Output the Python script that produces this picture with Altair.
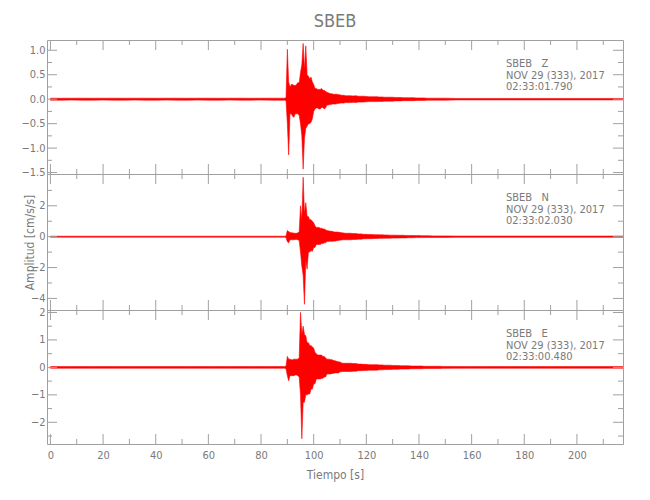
import altair as alt
import pandas as pd

# ---------------- data ----------------
t_pre = [0, 4, 8, 12, 16, 20, 24, 28, 32, 36, 40, 44, 48, 52, 56, 60, 64, 68, 72, 76, 80, 84, 88]
t_event = [88.5, 89, 89.5, 90, 90.5, 91, 91.5, 92, 92.5, 93, 93.5, 94, 94.5, 95, 95.5, 96,
           96.5, 97, 97.5, 98, 98.5, 99, 99.5, 100, 100.5, 101, 101.5, 102, 102.5, 103, 103.5,
           104, 104.5, 105, 105.5, 106, 106.5, 107, 107.5, 108, 108.5, 109, 109.5, 110, 110.5,
           111, 111.5, 112]
t_coda = [113, 114, 115, 116, 117, 118, 119, 120, 121, 122, 123, 124, 125, 126, 127, 128, 129,
          130, 131, 132, 133, 134, 135, 136, 137, 138, 139, 140, 141, 142, 143, 144, 145, 146,
          147, 148, 149, 150]
t_post = [154, 158, 162, 166, 170, 174, 178, 182, 186, 190, 194, 198, 202, 206, 210, 214, 218]

# ---- SBEB Z : upper / lower envelope of the trace ----
z_hi = ([0.02, 0.018, 0.02, 0.02, 0.018, 0.02, 0.02, 0.018, 0.02, 0.02, 0.018, 0.02,
         0.02, 0.018, 0.02, 0.02, 0.018, 0.02, 0.02, 0.018, 0.02, 0.02, 0.02] +
        [0.02, 0.02, 0.03, 1.02, 0.35, 0.25, 0.3, 0.3, 0.28, 0.28, 0.3, 0.34, 0.33, 0.55, 0.7,
         1.14, 0.6, 1.09, 0.5, 0.47, 0.42, 0.45, 0.35, 0.3, 0.22, 0.22, 0.2, 0.2, 0.2, 0.22,
         0.18, 0.18, 0.16, 0.14, 0.13, 0.12, 0.11, 0.11, 0.1, 0.1, 0.1, 0.1, 0.09, 0.09, 0.08,
         0.08, 0.08, 0.07] +
        [0.07, 0.07, 0.065, 0.07, 0.06, 0.06, 0.06, 0.055, 0.05, 0.05, 0.05, 0.05, 0.045, 0.045,
         0.04, 0.04, 0.04, 0.04, 0.035, 0.035, 0.035, 0.03, 0.03, 0.03, 0.03, 0.03, 0.025, 0.025,
         0.025, 0.025, 0.02, 0.02, 0.02, 0.02, 0.02, 0.02, 0.02, 0.02] +
        [0.015, 0.015, 0.015, 0.015, 0.015, 0.015, 0.015, 0.015, 0.015, 0.015, 0.015, 0.015,
         0.015, 0.015, 0.015, 0.015, 0.015])
z_lo = ([-0.02, -0.02, -0.018, -0.02, -0.02, -0.018, -0.02, -0.02, -0.018, -0.02, -0.02, -0.018,
         -0.02, -0.02, -0.018, -0.02, -0.02, -0.018, -0.02, -0.02, -0.018, -0.02, -0.02] +
        [-0.02, -0.02, -0.03, -0.5, -1.14, -0.3, -0.3, -0.35, -0.37, -0.3, -0.3, -0.3, -0.33,
         -0.5, -0.75, -1.43, -0.8, -0.6, -0.55, -0.5, -0.5, -0.47, -0.4, -0.25, -0.2, -0.18,
         -0.18, -0.2, -0.2, -0.17, -0.17, -0.2, -0.18, -0.12, -0.12, -0.11, -0.11, -0.1, -0.1,
         -0.1, -0.1, -0.09, -0.09, -0.08, -0.08, -0.08, -0.08, -0.07] +
        [-0.07, -0.07, -0.065, -0.07, -0.06, -0.06, -0.06, -0.055, -0.05, -0.05, -0.05, -0.05,
         -0.045, -0.045, -0.04, -0.04, -0.04, -0.04, -0.035, -0.035, -0.035, -0.03, -0.03, -0.03,
         -0.03, -0.03, -0.025, -0.025, -0.025, -0.025, -0.02, -0.02, -0.02, -0.02, -0.02, -0.02,
         -0.02, -0.02] +
        [-0.015, -0.015, -0.015, -0.015, -0.015, -0.015, -0.015, -0.015, -0.015, -0.015, -0.015,
         -0.015, -0.015, -0.015, -0.015, -0.015, -0.015])

# ---- SBEB N ----
n_hi = ([0.03, 0.03, 0.03, 0.03, 0.03, 0.03, 0.03, 0.03, 0.03, 0.03, 0.03, 0.03,
         0.03, 0.03, 0.03, 0.03, 0.03, 0.03, 0.03, 0.03, 0.03, 0.03, 0.03] +
        [0.03, 0.03, 0.05, 0.4, 0.33, 0.27, 0.25, 0.25, 0.22, 0.22, 0.22, 0.25, 0.3, 2.0, 1.0,
         3.85, 1.5, 2.2, 1.3, 1.3, 1.1, 1.1, 1.0, 0.9, 0.7, 0.6, 0.6, 0.6, 0.55, 0.55, 0.5, 0.5,
         0.45, 0.4, 0.38, 0.37, 0.35, 0.35, 0.32, 0.3, 0.3, 0.3, 0.28, 0.28, 0.25, 0.25, 0.23,
         0.22] +
        [0.22, 0.22, 0.2, 0.2, 0.18, 0.18, 0.15, 0.15, 0.14, 0.14, 0.13, 0.13, 0.12, 0.12, 0.11,
         0.11, 0.1, 0.1, 0.1, 0.09, 0.09, 0.09, 0.08, 0.08, 0.08, 0.07, 0.07, 0.07, 0.06, 0.06,
         0.06, 0.06, 0.05, 0.05, 0.05, 0.05, 0.05, 0.05] +
        [0.04, 0.04, 0.04, 0.04, 0.04, 0.04, 0.04, 0.04, 0.04, 0.04, 0.04, 0.04, 0.04, 0.04,
         0.04, 0.04, 0.04])
n_lo = ([-0.03, -0.03, -0.03, -0.03, -0.03, -0.03, -0.03, -0.03, -0.03, -0.03, -0.03, -0.03,
         -0.03, -0.03, -0.03, -0.03, -0.03, -0.03, -0.03, -0.03, -0.03, -0.03, -0.03] +
        [-0.03, -0.03, -0.05, -0.33, -0.4, -0.2, -0.2, -0.2, -0.2, -0.18, -0.18, -0.2, -0.25,
         -1.0, -1.9, -2.5, -4.38, -1.5, -2.1, -1.0, -1.0, -0.9, -0.95, -0.7, -0.7, -0.5, -0.5,
         -0.5, -0.5, -0.45, -0.45, -0.4, -0.4, -0.32, -0.32, -0.3, -0.3, -0.3, -0.3, -0.28,
         -0.28, -0.25, -0.25, -0.22, -0.22, -0.2, -0.2, -0.2] +
        [-0.2, -0.2, -0.18, -0.18, -0.16, -0.16, -0.14, -0.14, -0.13, -0.13, -0.12, -0.12, -0.11,
         -0.11, -0.1, -0.1, -0.1, -0.09, -0.09, -0.09, -0.08, -0.08, -0.08, -0.07, -0.07, -0.07,
         -0.06, -0.06, -0.06, -0.06, -0.05, -0.05, -0.05, -0.05, -0.05, -0.05, -0.05, -0.05] +
        [-0.04, -0.04, -0.04, -0.04, -0.04, -0.04, -0.04, -0.04, -0.04, -0.04, -0.04, -0.04,
         -0.04, -0.04, -0.04, -0.04, -0.04])

# ---- SBEB E ----
e_hi = ([0.03, 0.03, 0.03, 0.03, 0.03, 0.03, 0.03, 0.03, 0.03, 0.03, 0.03, 0.03,
         0.03, 0.03, 0.03, 0.03, 0.03, 0.03, 0.03, 0.03, 0.03, 0.03, 0.03] +
        [0.03, 0.03, 0.05, 0.4, 0.3, 0.3, 0.28, 0.28, 0.3, 0.3, 0.3, 0.3, 0.35, 2.0, 1.2, 1.5,
         1.2, 1.15, 0.9, 0.9, 0.8, 0.79, 0.75, 0.7, 0.55, 0.5, 0.45, 0.45, 0.45, 0.45, 0.4, 0.4,
         0.35, 0.3, 0.3, 0.3, 0.28, 0.28, 0.25, 0.25, 0.22, 0.22, 0.2, 0.2, 0.17, 0.15, 0.15,
         0.15] +
        [0.15, 0.15, 0.14, 0.14, 0.12, 0.12, 0.11, 0.11, 0.1, 0.1, 0.1, 0.1, 0.09, 0.09, 0.08,
         0.08, 0.08, 0.07, 0.07, 0.07, 0.06, 0.06, 0.06, 0.06, 0.05, 0.05, 0.05, 0.05, 0.05,
         0.04, 0.04, 0.04, 0.04, 0.04, 0.04, 0.04, 0.035, 0.035] +
        [0.03, 0.03, 0.03, 0.03, 0.03, 0.03, 0.03, 0.03, 0.03, 0.03, 0.03, 0.03, 0.03, 0.03,
         0.03, 0.03, 0.03])
e_lo = ([-0.03, -0.03, -0.03, -0.03, -0.03, -0.03, -0.03, -0.03, -0.03, -0.03, -0.03, -0.03,
         -0.03, -0.03, -0.03, -0.03, -0.03, -0.03, -0.03, -0.03, -0.03, -0.03, -0.03] +
        [-0.03, -0.03, -0.05, -0.3, -0.49, -0.3, -0.3, -0.3, -0.3, -0.28, -0.28, -0.3, -0.35,
         -1.0, -2.6, -1.27, -1.27, -1.0, -1.0, -0.97, -0.97, -0.79, -0.79, -0.6, -0.6, -0.42,
         -0.42, -0.42, -0.42, -0.4, -0.4, -0.35, -0.35, -0.24, -0.24, -0.24, -0.24, -0.22,
         -0.22, -0.2, -0.2, -0.2, -0.2, -0.16, -0.16, -0.15, -0.15, -0.15] +
        [-0.15, -0.15, -0.14, -0.14, -0.12, -0.12, -0.11, -0.11, -0.1, -0.1, -0.1, -0.1, -0.09,
         -0.09, -0.08, -0.08, -0.08, -0.07, -0.07, -0.07, -0.06, -0.06, -0.06, -0.06, -0.05,
         -0.05, -0.05, -0.05, -0.05, -0.04, -0.04, -0.04, -0.04, -0.04, -0.04, -0.04, -0.035,
         -0.035] +
        [-0.03, -0.03, -0.03, -0.03, -0.03, -0.03, -0.03, -0.03, -0.03, -0.03, -0.03, -0.03,
         -0.03, -0.03, -0.03, -0.03, -0.03])

x_major = [0, 20, 40, 60, 80, 100, 120, 140, 160, 180, 200]
x_minor = [10, 30, 50, 70, 90, 110, 130, 150, 170, 190, 210]

NB = "\u00a0\u00a0\u00a0"
panels = [
    dict(hi=z_hi, lo=z_lo, domain=[-1.53, 1.21],
         major=[1.0, 0.5, 0.0, -0.5, -1.0, -1.5], minor=[0.75, 0.25, -0.25, -0.75, -1.25],
         fmt=".1f", lines=["SBEB" + NB + "Z", "NOV 29 (333), 2017", "02:33:01.790"], height=134),
    dict(hi=n_hi, lo=n_lo, domain=[-4.75, 4.06],
         major=[2, 0, -2, -4], minor=[3, 1, -1, -3], fmt="d",
         lines=["SBEB" + NB + "N", "NOV 29 (333), 2017", "02:33:02.030"], height=136),
    dict(hi=e_hi, lo=e_lo, domain=[-2.79, 2.09],
         major=[2, 1, 0, -1, -2], minor=[1.5, 0.5, -0.5, -1.5, -2.5], fmt="d",
         lines=["SBEB" + NB + "E", "NOV 29 (333), 2017", "02:33:00.480"], height=134),
]

times = t_pre + t_event + t_coda + t_post

# ---------------- styling ----------------
FONT = "Liberation Sans Narrow, DejaVu Sans Condensed, Roboto Condensed, Liberation Sans, sans-serif"
TEXT = "#7a7a7a"
FRAME = "#a0a0a0"
W = 576
XDOM = [-1.3, 217.5]

xscale = alt.Scale(domain=XDOM, nice=False, zero=False)


def panel(p, idx):
    H = p["height"]
    yscale = alt.Scale(domain=p["domain"], nice=False, zero=False)
    df = pd.DataFrame({"t": times, "hi": p["hi"], "lo": p["lo"]})
    if idx == 2:
        xaxis = alt.Axis(values=x_major, ticks=False, domain=False, grid=False,
                         labelPadding=5, title="Tiempo [s]", titlePadding=9,
                         labelOverlap=False, labelFlush=False)
    else:
        xaxis = None
    if idx == 1:
        yaxis = alt.Axis(values=p["major"], ticks=False, domain=False, grid=False,
                         labelPadding=2, format=p["fmt"], labelOverlap=False,
                         labelFlush=False, title="Amplitud [cm/s/s]", titleX=-11)
    else:
        yaxis = alt.Axis(values=p["major"], ticks=False, domain=False, grid=False,
                         labelPadding=2, format=p["fmt"], labelOverlap=False,
                         labelFlush=False, title=None)

    X = dict(scale=xscale, axis=xaxis)
    Y = dict(scale=yscale, axis=yaxis)

    trace = alt.Chart(df).mark_area(color="#ff0000", opacity=1, clip=True,
                                    stroke="#ff0000", strokeWidth=0.6).encode(
        x=alt.X("t:Q", **X),
        y=alt.Y("hi:Q", **Y),
        y2="lo:Q",
    )
    xmaj = pd.DataFrame({"t": x_major})
    xmin = pd.DataFrame({"t": x_minor})
    ymaj = pd.DataFrame({"hi": p["major"]})
    ymin = pd.DataFrame({"hi": p["minor"]})
    layers = [trace]
    for d, L in ((xmaj, 10), (xmin, 5)):
        layers.append(alt.Chart(d).mark_rule(color=FRAME, strokeWidth=1).encode(
            x=alt.X("t:Q", **X), y=alt.value(H - L), y2=alt.value(H)))
        layers.append(alt.Chart(d).mark_rule(color=FRAME, strokeWidth=1).encode(
            x=alt.X("t:Q", **X), y=alt.value(0), y2=alt.value(L)))
    for d, L in ((ymaj, 10), (ymin, 5)):
        layers.append(alt.Chart(d).mark_rule(color=FRAME, strokeWidth=1).encode(
            y=alt.Y("hi:Q", **Y), x=alt.value(0), x2=alt.value(L)))
        layers.append(alt.Chart(d).mark_rule(color=FRAME, strokeWidth=1).encode(
            y=alt.Y("hi:Q", **Y), x=alt.value(W - L), x2=alt.value(W)))
    txt = alt.Chart(pd.DataFrame({"k": [0]})).mark_text(
        align="left", baseline="middle", font=FONT, fontSize=11, color=TEXT,
        lineHeight=11.7).encode(
        x=alt.value(459), y=alt.value(24), text=alt.value(p["lines"]))
    layers.append(txt)
    ch = alt.layer(*layers).properties(width=W, height=H)
    if idx == 0:
        ch = ch.properties(title=alt.TitleParams(
            "SBEB", font=FONT, fontSize=18, fontWeight="normal", color=TEXT,
            anchor="middle", frame="group", offset=9))
    return ch


chart = alt.vconcat(*[panel(p, i) for i, p in enumerate(panels)], spacing=0,
                    bounds="flush").properties(
    padding={"left": 12, "top": 4, "right": 5, "bottom": 5}
).configure_view(stroke=FRAME, strokeWidth=1).configure_axis(
    labelFont=FONT, labelFontSize=11, labelColor=TEXT,
    titleFont=FONT, titleFontSize=12, titleFontWeight="normal", titleColor=TEXT,
)

chart.save("out.html", embed_options={"renderer": "svg", "actions": False})
